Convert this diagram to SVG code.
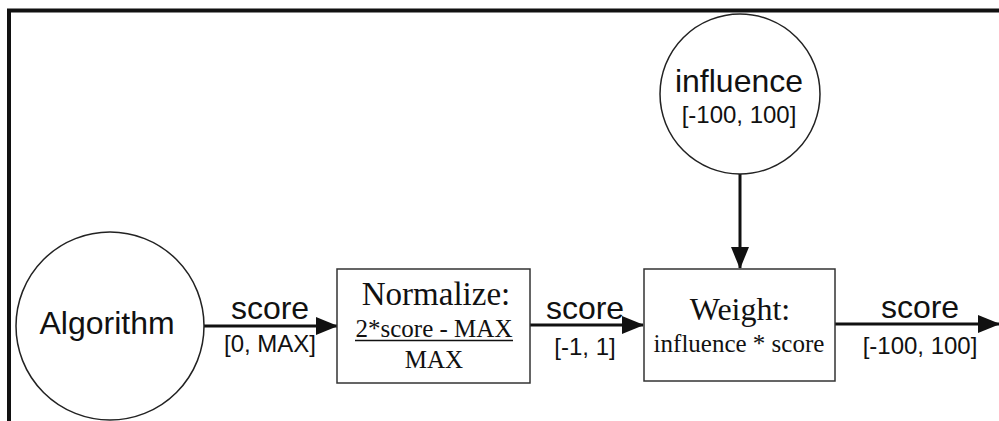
<svg xmlns="http://www.w3.org/2000/svg" width="999" height="421" viewBox="0 0 999 421">
<style>
.frame{stroke:#111;stroke-width:4;fill:none}
.circ{fill:#fff;stroke:#222;stroke-width:1.5}
.box{fill:#fff;stroke:#333;stroke-width:1.5}
.edge{stroke:#111;stroke-width:3;fill:none}
.sans{font-family:"Liberation Sans",Arial,sans-serif;fill:#111;text-anchor:middle}
.serif{font-family:"Liberation Serif","Times New Roman",serif;fill:#111;text-anchor:middle}
.big{font-size:32px}
.small{font-size:24px}
</style>
<defs>
<marker id="arrow" markerUnits="userSpaceOnUse" markerWidth="22" markerHeight="18" refX="21" refY="9" orient="auto">
<path d="M0,0 L22,9 L0,18 Z" fill="#111"/>
</marker>
</defs>
<rect width="999" height="421" fill="#fff"/>
<g id="frame">
<path class="frame" d="M9,421 L9,10.5 L999,10.5"/>
</g>
<g id="connectors">
<line class="edge" x1="204" y1="326" x2="337" y2="326" marker-end="url(#arrow)"/>
<line class="edge" x1="530" y1="325" x2="643" y2="325" marker-end="url(#arrow)"/>
<line class="edge" x1="835" y1="324" x2="999" y2="324" marker-end="url(#arrow)"/>
<line class="edge" x1="740" y1="174" x2="740" y2="268" marker-end="url(#arrow)"/>
<text class="sans big" x="270" y="319">score</text>
<text class="sans small" x="270" y="352">[0, MAX]</text>
<text class="sans big" x="585" y="319">score</text>
<text class="sans small" x="585" y="355">[-1, 1]</text>
<text class="sans big" x="920" y="318">score</text>
<text class="sans small" x="920" y="354">[-100, 100]</text>
</g>
<g id="algorithm">
<circle class="circ" cx="110" cy="326" r="94"/>
<text class="sans big" x="107" y="334">Algorithm</text>
</g>
<g id="influence">
<circle class="circ" cx="740" cy="94" r="80"/>
<text class="sans big" x="739" y="92">influence</text>
<text class="sans small" x="739" y="123">[-100, 100]</text>
</g>
<g id="normalize">
<rect class="box" x="337" y="269" width="193" height="114"/>
<text class="serif" x="436" y="305" font-size="33">Normalize:</text>
<text class="serif" x="434" y="337" font-size="25">2*score - MAX</text>
<line x1="355" y1="340.5" x2="513" y2="340.5" stroke="#111" stroke-width="1.5"/>
<text class="serif" x="434" y="368" font-size="25">MAX</text>
</g>
<g id="weight">
<rect class="box" x="644" y="269" width="191" height="112"/>
<text class="serif" x="740" y="320" font-size="32">Weight:</text>
<text class="serif" x="739" y="352" font-size="25">influence * score</text>
</g>
</svg>
